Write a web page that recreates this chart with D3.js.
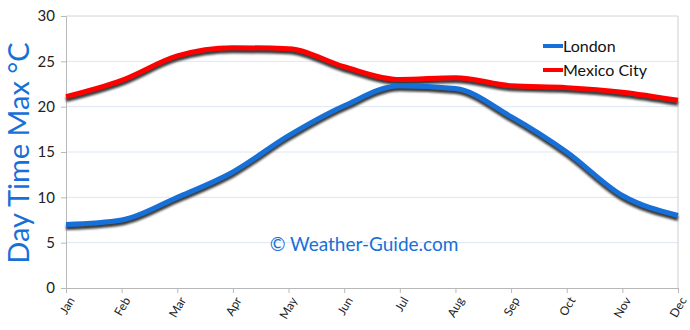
<!DOCTYPE html>
<html>
<head>
<meta charset="utf-8">
<script src="https://cdn.jsdelivr.net/npm/d3@7"></script>
<style>
  body { margin: 0; background: #fff; }
  svg text { font-family: "Comic Sans MS", "Lato", "DejaVu Sans", sans-serif; }
</style>
</head>
<body>
<svg id="chart" width="690" height="330"></svg>
<script>
// chart values
const months = ['Jan', 'Feb', 'Mar', 'Apr', 'May', 'Jun', 'Jul', 'Aug', 'Sep', 'Oct', 'Nov', 'Dec'];
const london = [7, 7.5, 10, 12.8, 16.8, 20.1, 22.3, 22, 18.9, 15, 10.2, 8];
const mexicoCity = [21.1, 22.9, 25.6, 26.5, 26.4, 24.4, 23, 23.2, 22.3, 22.1, 21.6, 20.7];
const yTicks = [0, 5, 10, 15, 20, 25, 30];

let margin = { top: 16, right: 12, bottom: 42, left: 66 },
    width = 690,
    height = 330,
    blue = '#1670d8',
    red = '#ff0000',
    x = d3.scalePoint().domain(months).range([margin.left, width - margin.right]),
    y = d3.scaleLinear().domain([0, 30]).range([height - margin.bottom, margin.top]),
    svg = d3.select('#chart');

let defs = svg.append('defs');
defs.append('filter')
    .attr('id', 'shadow')
    .attr('x', '-10%').attr('y', '-50%')
    .attr('width', '120%').attr('height', '200%')
    .append('feGaussianBlur')
    .attr('stdDeviation', 1.3);

// grid lines
svg.append('g')
    .selectAll('line')
    .data(yTicks.filter(t => t > 0))
    .enter()
    .append('line')
    .attr('x1', margin.left)
    .attr('x2', width - margin.right)
    .attr('y1', d => y(d))
    .attr('y2', d => y(d))
    .attr('stroke', d => d === 30 ? '#d4d4d4' : '#dde6f4')
    .attr('stroke-width', 1);

// right border
svg.append('line')
    .attr('x1', width - margin.right).attr('x2', width - margin.right)
    .attr('y1', y(30)).attr('y2', y(0))
    .attr('stroke', '#cfcfcf');

// y axis
let yAxis = svg.append('g')
    .attr('transform', `translate(${margin.left},0)`)
    .call(d3.axisLeft(y).tickValues(yTicks).tickSize(5).tickPadding(6));
yAxis.select('.domain').attr('stroke', '#b8b8b8');
yAxis.selectAll('.tick line').attr('stroke', '#b8b8b8');
yAxis.selectAll('text').attr('font-size', 15).attr('fill', '#222');

// x axis
let xAxis = svg.append('g')
    .attr('transform', `translate(0,${y(0)})`)
    .call(d3.axisBottom(x).tickSize(5).tickPadding(4));
xAxis.select('.domain').attr('stroke', '#b8b8b8');
xAxis.selectAll('.tick line').attr('stroke', '#b8b8b8');
xAxis.selectAll('text')
    .attr('font-size', 12)
    .attr('fill', '#222')
    .attr('text-anchor', 'end')
    .attr('x', 5)
    .attr('y', 10)
    .attr('dy', '0.35em')
    .attr('transform', 'rotate(-60, 5, 10)');

// y axis title
svg.append('text')
    .attr('transform', `translate(29,153) rotate(-90)`)
    .attr('text-anchor', 'middle')
    .attr('font-size', 29)
    .attr('fill', blue)
    .text('Day Time Max °C');

// watermark
svg.append('text')
    .attr('x', 364)
    .attr('y', 251)
    .attr('text-anchor', 'middle')
    .attr('font-size', 19)
    .attr('fill', blue)
    .text('© Weather-Guide.com');

let line = d3.line()
    .x((d, i) => x(months[i]))
    .y(d => y(d))
    .curve(d3.curveMonotoneX);

let series = [
    { name: 'London', values: london, color: blue },
    { name: 'Mexico City', values: mexicoCity, color: red }
];

series.forEach(s => {
    svg.append('path')
        .attr('d', line(s.values))
        .attr('transform', 'translate(0,3)')
        .attr('fill', 'none')
        .attr('stroke', '#3a3a3a')
        .attr('stroke-width', 5)
        .attr('filter', 'url(#shadow)');
});
series.forEach(s => {
    svg.append('path')
        .attr('d', line(s.values))
        .attr('fill', 'none')
        .attr('stroke', s.color)
        .attr('stroke-width', 5);
});

// legend
let legend = svg.append('g').attr('transform', 'translate(543,46)');
series.forEach((s, i) => {
    let g = legend.append('g').attr('transform', `translate(0,${i * 24})`);
    g.append('rect')
        .attr('x', 0).attr('y', -2)
        .attr('width', 20).attr('height', 4)
        .attr('fill', s.color);
    g.append('text')
        .attr('x', 20).attr('y', 0)
        .attr('dy', '0.35em')
        .attr('font-size', 16)
        .attr('fill', '#111')
        .text(s.name);
});
</script>
</body>
</html>
